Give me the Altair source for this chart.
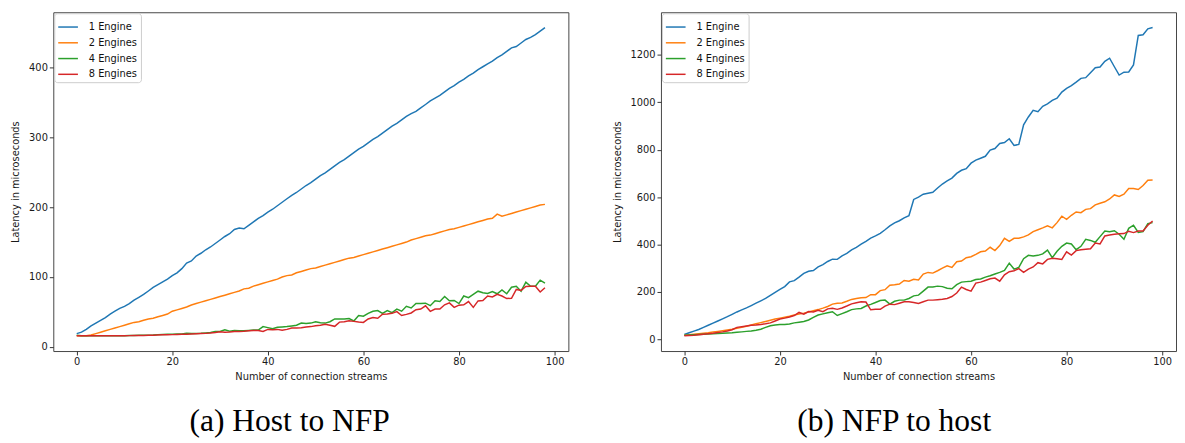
import altair as alt
import pandas as pd

streams = list(range(99))
engines = ["1 Engine", "2 Engines", "4 Engines", "8 Engines"]
colors = ["#1f77b4", "#ff7f0e", "#2ca02c", "#d62728"]
x_ticks = [0, 20, 40, 60, 80, 100]
captions = ["(a) Host to NFP", "(b) NFP to host"]

# (a) Host to NFP
h2n_1 = [19, 21, 25, 30, 34, 38, 42, 47, 51, 55,
         58, 62, 67, 71, 75, 80, 85, 89, 93, 97,
         102, 106, 112, 120, 123, 130, 134, 139, 143, 148,
         153, 158, 162, 168, 170, 169, 174, 179, 184, 188,
         193, 197, 202, 207, 212, 217, 221, 226, 231, 235,
         240, 245, 249, 254, 259, 264, 268, 273, 278, 283,
         287, 292, 297, 301, 306, 311, 316, 320, 325, 330,
         334, 337, 342, 347, 352, 356, 360, 365, 370, 374,
         379, 383, 388, 392, 397, 401, 405, 409, 414, 418,
         423, 428, 430, 435, 440, 443, 447, 452, 457]
h2n_2 = [16, 16, 16, 17, 19, 21, 23, 25, 27, 29,
         31, 33, 35, 36, 38, 40, 41, 43, 45, 47,
         51, 53, 55, 57, 60, 62, 64, 66, 68, 70,
         72, 74, 76, 78, 80, 83, 84, 87, 89, 91,
         93, 95, 97, 100, 102, 103, 106, 108, 110, 112,
         113, 115, 117, 119, 121, 123, 125, 127, 128, 130,
         132, 134, 136, 138, 140, 142, 144, 146, 148, 150,
         153, 155, 157, 159, 160, 162, 164, 166, 168, 169,
         171, 173, 175, 177, 179, 181, 183, 184, 190, 187,
         189, 191, 193, 195, 197, 199, 201, 203, 204]
h2n_4 = [16.5, 16, 16, 16, 16, 16, 16, 16, 16, 16,
         16, 16.2, 16.3, 16.5, 16.6, 16.8, 17, 17.5, 17.8, 18,
         18, 18.3, 18.5, 19.5, 19, 19.2, 19.5, 20, 20.5, 22,
         22, 24.5, 22.5, 23.5, 23, 23, 23.5, 24, 24, 29,
         27.5, 26, 28, 28.5, 29, 30, 31, 34, 33.5, 34,
         36, 34.5, 34, 36, 40, 40, 40, 40.5, 37, 45,
         44, 48, 51, 52, 48, 52, 49, 54, 51, 58,
         55.6, 62, 62, 62.5, 59, 66, 65, 72, 66, 66.5,
         62, 72.8, 70.4, 75, 79.7, 77.4, 76.5, 79.3, 76, 81.6,
         76, 85.3, 86.7, 79.7, 92.7, 86.7, 86.7, 95.5, 91.3]
h2n_8 = [16, 15.8, 15.8, 15.8, 15.8, 15.8, 15.9, 16, 16, 16,
         16, 16.1, 16.2, 16.3, 16.4, 16.5, 16.6, 17, 17.2, 17.3,
         17.5, 17.8, 18, 18.2, 18.5, 18.7, 19, 19.3, 19.8, 20.5,
         21.5, 21, 21.3, 22, 22, 22.3, 23, 23.5, 23.5, 22,
         25, 24.5, 25, 23.8, 25, 27, 27, 27.5, 28.4, 29,
         30.3, 31, 32.2, 31, 29.4, 35.4, 36, 37.3, 36.5, 35.5,
         35, 40, 42, 41, 46.7, 47.2, 48, 50.4, 44.8, 46.5,
         48.5, 53.2, 54.1, 58.8, 50.9, 54.1, 54.1, 60.2, 63, 56.5,
         59.7, 60.2, 64.8, 56.5, 65.8, 66.3, 72.8, 71.4, 75.1, 72.8,
         69.1, 69.6, 82.2, 80.8, 86.4, 86.9, 86.9, 78.5, 84.6]

# (b) NFP to host
n2h_1 = [20, 27, 34, 41, 50, 59, 68, 77, 86, 95,
         105, 115, 124, 132, 142, 152, 162, 172, 185, 198,
         210, 222, 242, 247, 262, 278, 287, 290, 305, 315,
         328, 338, 337, 352, 362, 377, 388, 401, 413, 427,
         436, 447, 462, 478, 491, 500, 512, 521, 590, 600,
         612, 616, 620, 638, 655, 668, 680, 700, 713, 720,
         743, 756, 764, 772, 798, 805, 826, 830, 846, 818,
         822, 905, 938, 966, 960, 983, 993, 1008, 1017, 1043,
         1059, 1070, 1085, 1101, 1104, 1125, 1146, 1149, 1173, 1186,
         1150, 1115, 1127, 1128, 1158, 1282, 1285, 1310, 1316]
n2h_2 = [17, 19, 21, 23, 25, 27, 30, 33, 36, 39,
         42, 46, 50, 55, 60, 65, 70, 75, 80, 85,
         89, 93, 97, 102, 106, 110, 115, 120, 125, 131,
         138, 148, 152, 153, 160, 168, 172, 175, 176, 188,
         188, 205, 209, 228, 230, 233, 248, 245, 253, 250,
         275, 282, 279, 289, 300, 310, 303, 327, 330, 344,
         348, 358, 369, 372, 388, 374, 395, 426, 413, 426,
         426, 432, 440, 454, 462, 470, 479, 470, 492, 519,
         506, 523, 537, 534, 548, 551, 567, 574, 580, 592,
         609, 603, 612, 636, 636, 632, 649, 671, 672]
n2h_4 = [17, 18, 19, 20, 21, 22, 23, 24, 25, 26,
         27, 29, 31, 33, 35, 38, 42, 50, 57, 60,
         62, 62, 64, 69, 72, 75, 81, 92, 102, 107,
         112, 116, 100, 108, 116, 125, 128, 130, 140, 147,
         155, 163, 165, 148, 160, 165, 165, 172, 183, 186,
         203, 220, 220, 224, 222, 215, 213, 230, 241, 243,
         245, 252, 254, 262, 268, 275, 282, 290, 321, 296,
         303, 340, 354, 351, 354, 360, 376, 344, 371, 392,
         406, 402, 378, 392, 422, 417, 409, 433, 457, 454,
         458, 443, 422, 468, 481, 451, 454, 488, 492]
n2h_8 = [15, 16, 17, 19, 21, 23, 25, 28, 31, 35,
         40, 50, 53, 56, 59, 60, 62, 65, 69, 77,
         85, 89, 94, 100, 113, 106, 117, 115, 122, 116,
         128, 131, 126, 132, 140, 149, 154, 158, 157, 124,
         126, 126, 140, 148, 146, 152, 158, 158, 155, 151,
         158, 165, 165, 167, 169, 172, 180, 195, 220, 210,
         203, 237, 241, 248, 255, 258, 245, 272, 285, 289,
         298, 282, 296, 305, 323, 318, 337, 342, 340, 337,
         369, 355, 374, 378, 380, 382, 406, 402, 436, 440,
         443, 445, 446, 456, 450, 457, 457, 481, 499]

FONT = "DejaVu Sans"


def to_frame(series):
    rows = []
    for name, vals in zip(engines, series):
        for s, v in zip(streams, vals):
            rows.append({"streams": s, "latency": v, "engine": name})
    return pd.DataFrame(rows)


def panel(series, ydomain, yticks, caption):
    df = to_frame(series)
    return alt.Chart(df).mark_line(strokeWidth=1.5).encode(
        x=alt.X("streams:Q",
                scale=alt.Scale(domain=[-4.9, 102.9], nice=False, zero=False),
                axis=alt.Axis(values=x_ticks, title="Number of connection streams",
                              titlePadding=5, format="d")),
        y=alt.Y("latency:Q",
                scale=alt.Scale(domain=ydomain, nice=False, zero=False),
                axis=alt.Axis(values=yticks, title="Latency in microseconds",
                              titlePadding=8, format="d")),
        color=alt.Color("engine:N",
                        scale=alt.Scale(domain=engines, range=colors),
                        legend=alt.Legend(title=None, orient="top-left", offset=1,
                                          symbolType="stroke", symbolSize=400,
                                          symbolStrokeWidth=1.5,
                                          labelFontSize=10, labelFont=FONT,
                                          labelColor="#111", labelOffset=10,
                                          padding=3, rowPadding=-4.3,
                                          fillColor="white", strokeColor="#cccccc",
                                          cornerRadius=3)),
        order=alt.Order("streams:Q"),
    ).properties(
        width=523, height=344,
        title=alt.TitleParams(caption, orient="bottom", anchor="middle", frame="bounds",
                              font="Liberation Serif", fontSize=32, fontWeight="normal",
                              color="#000", offset=25),
    )


left = panel([h2n_1, h2n_2, h2n_4, h2n_8], [-6, 479], [0, 100, 200, 300, 400], captions[0])
right = panel([n2h_1, n2h_2, n2h_4, n2h_8], [-50, 1380], [0, 200, 400, 600, 800, 1000, 1200], captions[1])

chart = alt.hconcat(left, right, spacing=43).resolve_scale(
    color="independent"
).resolve_legend(
    color="independent"
).properties(
    padding={"left": 2, "top": 0, "right": 0, "bottom": 0}
).configure_view(
    stroke="#444444", strokeWidth=1
).configure_axis(
    domain=False, grid=False,
    labelFont=FONT, titleFont=FONT,
    labelFontSize=10, titleFontSize=10, titleFontWeight="normal",
    labelColor="#1a1a1a", titleColor="#1a1a1a",
    tickColor="#333333", tickSize=4, labelPadding=2,
)

chart.save("out.html", embed_options={"renderer": "svg", "actions": False})
